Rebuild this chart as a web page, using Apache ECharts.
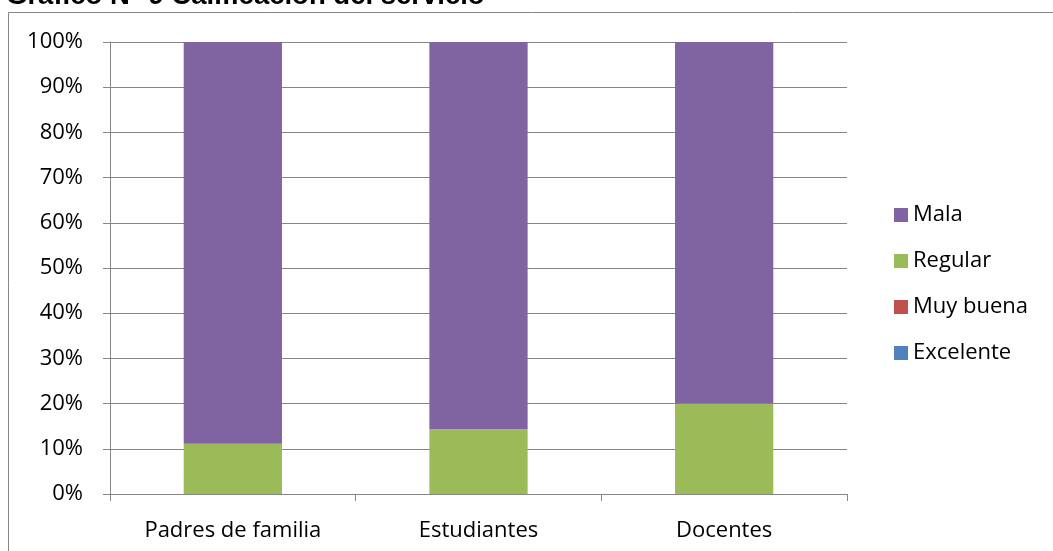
<!DOCTYPE html>
<html>
<head>
<meta charset="utf-8">
<title>Gráfico N° 9 Calificación del servicio</title>
<script src="https://cdn.jsdelivr.net/npm/echarts@6/dist/echarts.min.js"></script>
<style>
  html, body { margin: 0; padding: 0; background: #ffffff; }
  #chart { width: 1053px; height: 551px; }
</style>
</head>
<body>
<div id="chart"></div>
<script>
// Respondent groups along the category axis
const categories = ['Padres de familia', 'Estudiantes', 'Docentes'];

// Share of each rating per group (percent)
const excelente = [0, 0, 0];
const muyBuena = [0, 0, 0];
const regular = [11.1, 14.3, 20];
const mala = [88.9, 85.7, 80];

// Value-axis ticks
const yTicks = [0, 10, 20, 30, 40, 50, 60, 70, 80, 90, 100];

// Legend order as listed beside the plot
const legendOrder = ['Mala', 'Regular', 'Muy buena', 'Excelente'];

const titleText = 'Gráfico N° 9 Calificación del servicio';

const gray = '#868686';
const labelFont = { fontFamily: 'Open Sans', fontSize: 22, color: '#000000' };

const chart = echarts.init(document.getElementById('chart'), null, { renderer: 'canvas' });

function bar(name, data, color) {
  return {
    name: name,
    type: 'bar',
    stack: 'total',
    data: data,
    barWidth: '40%',
    itemStyle: { color: color },
    emphasis: { disabled: true }
  };
}

chart.setOption({
  animation: false,
  backgroundColor: '#ffffff',
  graphic: [
    {
      type: 'rect',
      shape: { x: 8.5, y: 12.5, width: 1200, height: 800 },
      style: { fill: 'none', stroke: gray, lineWidth: 1 },
      silent: true,
      z: -10
    },
    {
      // heading sits above the frame, partly cut off by the page's top edge
      type: 'text',
      x: 6,
      y: -18,
      style: {
        text: titleText,
        font: 'bold 27.5px "Liberation Sans", Arial, sans-serif',
        fill: '#000000',
        verticalAlign: 'top'
      },
      silent: true,
      z: 10
    }
  ],
  grid: { left: 110, top: 42, width: 737, height: 452, containLabel: false },
  legend: {
    data: legendOrder,
    orient: 'vertical',
    left: 889,
    top: 199,
    itemWidth: 14,
    itemHeight: 14,
    itemGap: 24,
    icon: 'rect',
    selectedMode: false,
    textStyle: Object.assign({}, labelFont, { lineHeight: 22 })
  },
  xAxis: {
    type: 'category',
    data: categories,
    axisLine: { show: true, lineStyle: { color: gray, width: 1 } },
    axisTick: { show: true, length: 7, alignWithLabel: false, lineStyle: { color: gray } },
    axisLabel: Object.assign({ margin: 26 }, labelFont),
    splitLine: { show: false }
  },
  yAxis: {
    type: 'value',
    min: yTicks[0],
    max: yTicks[yTicks.length - 1],
    interval: yTicks[1] - yTicks[0],
    axisLine: { show: true, lineStyle: { color: gray, width: 1 } },
    axisTick: { show: true, inside: false, length: 7, lineStyle: { color: gray } },
    axisLabel: Object.assign({ margin: 27, formatter: '{value}%' }, labelFont),
    splitLine: { show: true, lineStyle: { color: gray, width: 1 } }
  },
  series: [
    bar('Excelente', excelente, '#4F81BD'),
    bar('Muy buena', muyBuena, '#C0504D'),
    bar('Regular', regular, '#9BBB59'),
    bar('Mala', mala, '#8064A2')
  ]
});
</script>
</body>
</html>
